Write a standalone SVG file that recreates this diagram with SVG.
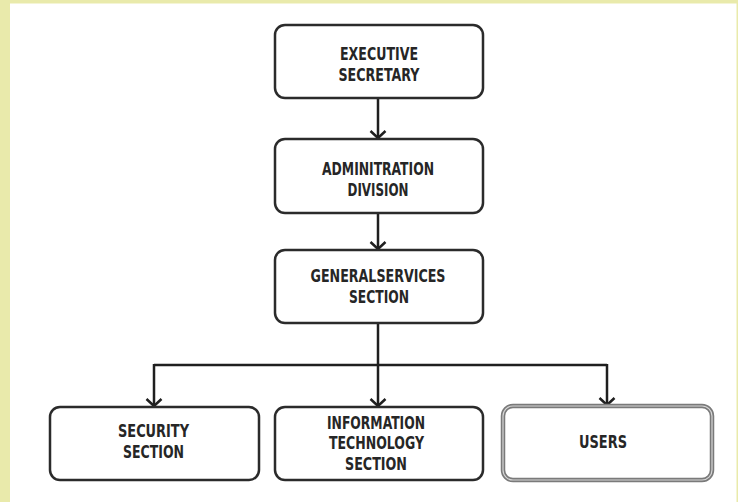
<svg xmlns="http://www.w3.org/2000/svg" width="738" height="502" viewBox="0 0 738 502">
  <style>
    .box { fill: #ffffff; stroke: #2b2b2b; stroke-width: 2.5; }
    .box-soft { fill: #ffffff; stroke: #7a7a7a; stroke-width: 4.5; }
    .box-soft-inner { fill: none; stroke: #d6d6d6; stroke-width: 1.2; }
    .label { font-family: "Liberation Sans Narrow", "DejaVu Sans Condensed", "Liberation Sans", sans-serif; font-weight: bold; font-size: 18px; fill: #262626; text-anchor: middle; }
    .wire { fill: none; stroke: #1f1f1f; stroke-width: 2.5; }
  </style>
  <defs>
    <marker id="chevron" markerUnits="userSpaceOnUse" markerWidth="20" markerHeight="20" viewBox="-10 -10 20 20" refX="0" refY="0" orient="auto">
      <path d="M-7,-7.5 L0,0 L-7,7.5" fill="none" stroke="#1f1f1f" stroke-width="2.5" stroke-linejoin="miter"/>
    </marker>
  </defs>

  <!-- page frame -->
  <rect x="0" y="0" width="738" height="502" fill="#e9eaab"/>
  <rect x="10" y="3.5" width="726.5" height="498.5" fill="#ffffff"/>

  <!-- connectors -->
  <g id="connectors">
    <line class="wire" x1="378" y1="98" x2="378" y2="138" marker-end="url(#chevron)"/>
    <line class="wire" x1="378" y1="213" x2="378" y2="249" marker-end="url(#chevron)"/>
    <polyline class="wire" points="378,323 378,365"/>
    <polyline class="wire" points="154,365 607,365"/>
    <line class="wire" x1="154" y1="364" x2="154" y2="406" marker-end="url(#chevron)"/>
    <line class="wire" x1="378" y1="365" x2="378" y2="406" marker-end="url(#chevron)"/>
    <line class="wire" x1="607" y1="364" x2="607" y2="405" marker-end="url(#chevron)"/>
  </g>

  <g id="executive-secretary">
    <rect class="box" x="275" y="25" width="208" height="73" rx="10"/>
    <text class="label" x="379" y="60" textLength="78" lengthAdjust="spacingAndGlyphs">EXECUTIVE</text>
    <text class="label" x="379" y="81" textLength="81" lengthAdjust="spacingAndGlyphs">SECRETARY</text>
  </g>

  <g id="administration-division">
    <rect class="box" x="275" y="139" width="208" height="74" rx="10"/>
    <text class="label" x="378" y="175" textLength="112" lengthAdjust="spacingAndGlyphs">ADMINITRATION</text>
    <text class="label" x="378" y="196" textLength="61" lengthAdjust="spacingAndGlyphs">DIVISION</text>
  </g>

  <g id="general-services-section">
    <rect class="box" x="275" y="250" width="208" height="73" rx="10"/>
    <text class="label" x="378" y="282" textLength="135" lengthAdjust="spacingAndGlyphs">GENERALSERVICES</text>
    <text class="label" x="379" y="303" textLength="60" lengthAdjust="spacingAndGlyphs">SECTION</text>
  </g>

  <g id="security-section">
    <rect class="box" x="50" y="407" width="209" height="73" rx="10"/>
    <text class="label" x="153.5" y="437" textLength="71" lengthAdjust="spacingAndGlyphs">SECURITY</text>
    <text class="label" x="153.5" y="458" textLength="61" lengthAdjust="spacingAndGlyphs">SECTION</text>
  </g>

  <g id="information-technology-section">
    <rect class="box" x="275" y="407" width="208" height="73" rx="10"/>
    <text class="label" x="376" y="429" textLength="98" lengthAdjust="spacingAndGlyphs">INFORMATION</text>
    <text class="label" x="376.5" y="449" textLength="95" lengthAdjust="spacingAndGlyphs">TECHNOLOGY</text>
    <text class="label" x="376" y="470" textLength="62" lengthAdjust="spacingAndGlyphs">SECTION</text>
  </g>

  <g id="users">
    <rect class="box-soft" x="503" y="406" width="209" height="74" rx="10"/>
    <rect class="box-soft-inner" x="503" y="406" width="209" height="74" rx="10"/>
    <text class="label" x="603" y="448" textLength="48" lengthAdjust="spacingAndGlyphs">USERS</text>
  </g>
</svg>
